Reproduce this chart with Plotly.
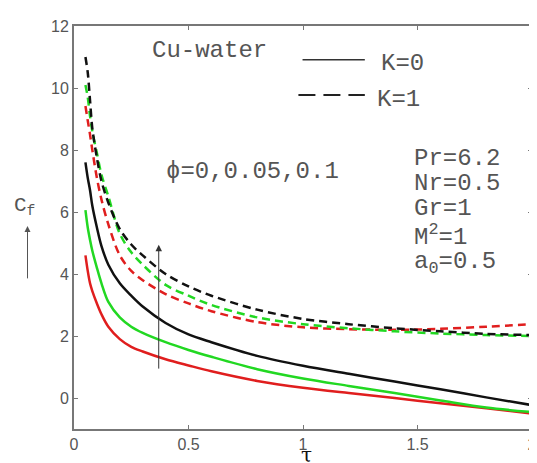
import plotly.graph_objects as go

# tau grid shared by all curves
tau = [0.05, 0.06, 0.07, 0.08, 0.1, 0.12, 0.15, 0.2, 0.25, 0.3, 0.4, 0.5, 0.6,
       0.8, 1.0, 1.2, 1.4, 1.6, 1.8, 2.0]

# K = 0 (solid)
cf_k0_phi0 = [4.6, 4.1, 3.7, 3.45, 3.05, 2.7, 2.3, 1.9, 1.65, 1.5, 1.25, 1.05, 0.86,
              0.55, 0.33, 0.16, 0.0, -0.17, -0.33, -0.5]
cf_k0_phi005 = [6.06, 5.5, 5.1, 4.75, 4.2, 3.7, 3.1, 2.6, 2.3, 2.1, 1.8, 1.55, 1.33,
                0.93, 0.63, 0.39, 0.16, -0.08, -0.31, -0.45]
cf_k0_phi01 = [7.6, 7.1, 6.7, 6.2, 5.5, 4.9, 4.3, 3.7, 3.3, 2.95, 2.42, 2.05, 1.8,
               1.36, 1.04, 0.78, 0.53, 0.28, 0.02, -0.23]

# K = 1 (dashed)
cf_k1_phi0 = [9.42, 8.95, 8.5, 8.0, 7.1, 6.4, 5.6, 4.6, 4.1, 3.8, 3.35, 3.05, 2.8,
              2.45, 2.28, 2.22, 2.2, 2.23, 2.3, 2.38]
cf_k1_phi005 = [10.1, 9.7, 9.1, 8.6, 7.9, 7.2, 6.5, 5.3, 4.7, 4.3, 3.65, 3.3, 3.0,
                2.6, 2.38, 2.25, 2.15, 2.08, 2.03, 2.0]
cf_k1_phi01 = [11.0, 10.5, 9.6, 8.7, 7.75, 7.0, 6.3, 5.45, 4.95, 4.6, 4.0, 3.6, 3.3,
               2.85, 2.55, 2.38, 2.25, 2.15, 2.07, 2.03]

x_ticks = [0, 0.5, 1, 1.5, 2]
x_tick_text = ["0", "0.5", "1", "1.5", "2"]
y_ticks = [0, 2, 4, 6, 8, 10, 12]
y_tick_text = ["0", "2", "4", "6", "8", "10", "12"]

RED = "#e01e1e"
GREEN = "#22d822"
BLACK = "#111111"

fig = go.Figure()
series = [
    (cf_k0_phi0, RED, "solid"),
    (cf_k0_phi005, GREEN, "solid"),
    (cf_k0_phi01, BLACK, "solid"),
    (cf_k1_phi0, RED, "8px,5px"),
    (cf_k1_phi005, GREEN, "8px,5px"),
    (cf_k1_phi01, BLACK, "8px,5px"),
]
for vals, col, dash in series:
    fig.add_trace(go.Scatter(x=tau, y=vals, mode="lines",
                             line=dict(color=col, width=2.5, dash=dash,
                                       shape="spline", smoothing=0.9),
                             showlegend=False, hoverinfo="skip"))

axis_common = dict(showline=True, linecolor="#777", linewidth=2, mirror="ticks",
                   ticks="inside", ticklen=4, tickcolor="#777", showgrid=False,
                   zeroline=False,
                   tickfont=dict(family="Liberation Sans, Arial", size=16, color="#555"))
fig.update_xaxes(range=[0, 2], tickvals=x_ticks, ticktext=x_tick_text, **axis_common)
fig.update_yaxes(range=[-1, 12], tickvals=y_ticks, ticktext=y_tick_text, **axis_common)

mono = dict(family="Liberation Mono, Courier New, monospace", size=24, color="#555")

# legend-like samples
fig.add_shape(type="line", xref="paper", yref="paper", x0=0.499, x1=0.635,
              y0=0.916, y1=0.916, line=dict(color="#333", width=1.5))
fig.add_shape(type="line", xref="paper", yref="paper", x0=0.490, x1=0.635,
              y0=0.829, y1=0.829, line=dict(color="#222", width=2, dash="17px,8px"))

annos = [
    ("Cu-water", 0.165, 0.940),
    ("K=0", 0.665, 0.908),
    ("K=1", 0.657, 0.818),
    ("\u03d5=0,0.05,0.1", 0.197, 0.640),
    ("Pr=6.2", 0.737, 0.672),
    ("Nr=0.5", 0.737, 0.610),
    ("Gr=1", 0.737, 0.548),
    ("M<sup>2</sup>=1", 0.737, 0.480),
    ("a<sub>0</sub>=0.5", 0.737, 0.412),
]
for txt, x, y in annos:
    fig.add_annotation(text=txt, x=x, y=y, xref="paper", yref="paper",
                       xanchor="left", yanchor="middle", showarrow=False, font=mono)

# y label C_f with arrow
fig.add_annotation(text="C<sub>f</sub>", x=-0.108, y=0.552, xref="paper", yref="paper",
                   showarrow=False, xanchor="center", yanchor="middle",
                   font=dict(family="Liberation Mono, Courier New, monospace", size=21, color="#555"))
fig.add_annotation(text="", x=-0.1015, y=0.504, xref="paper", yref="paper",
                   showarrow=True, ax=0, ay=54, arrowhead=2, arrowsize=1.2,
                   arrowwidth=1, arrowcolor="#555")

# x label tau with arrow
fig.add_annotation(text="", x=0.445, y=-0.092, xref="paper", yref="paper",
                   showarrow=True, ax=-60, ay=0, arrowhead=2, arrowsize=1.2,
                   arrowwidth=1, arrowcolor="#555")
fig.add_annotation(text="\u03c4", x=0.507, y=-0.100, xref="paper", yref="paper",
                   showarrow=False, xanchor="center", yanchor="bottom",
                   font=dict(family="DejaVu Serif, serif", size=20, color="#111"))

# direction arrow for increasing phi
fig.add_annotation(text="", x=0.37, y=4.94, xref="x", yref="y",
                   ax=0.37, ay=0.9, axref="x", ayref="y", showarrow=True,
                   arrowhead=2, arrowsize=1.3, arrowwidth=1, arrowcolor="#333")

fig.update_layout(width=537, height=463, margin=dict(l=66, r=8, t=18, b=42),
                  plot_bgcolor="white", paper_bgcolor="white")

fig.write_html("out.html")
